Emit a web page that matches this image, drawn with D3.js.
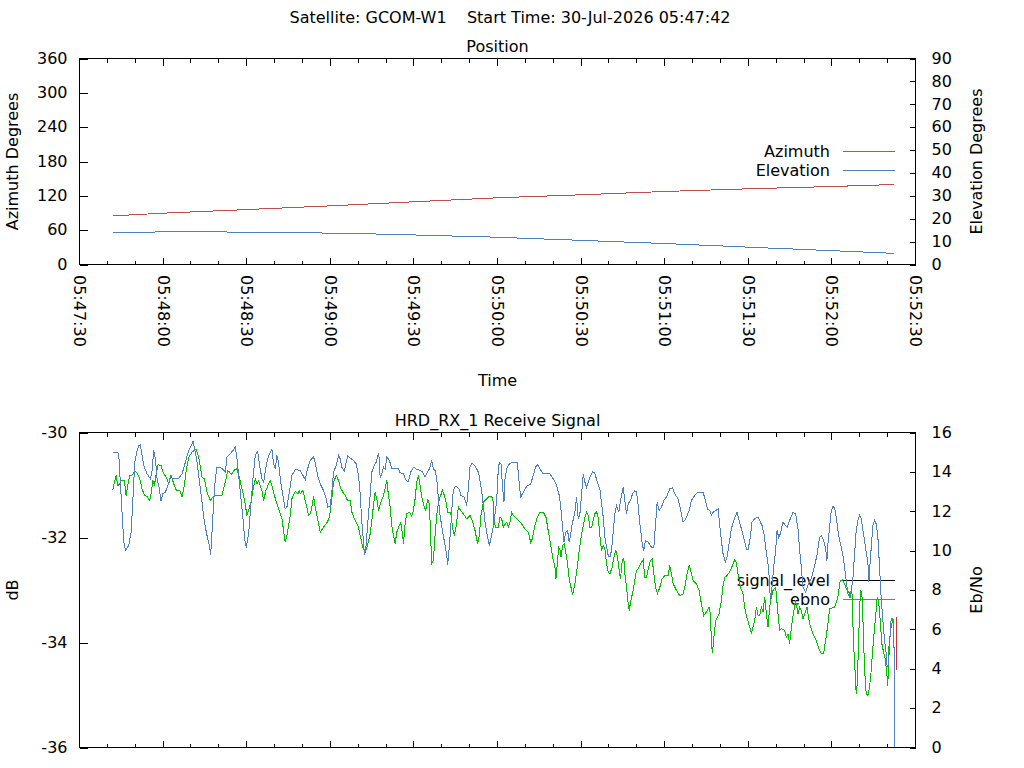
<!DOCTYPE html>
<html><head><meta charset="utf-8">
<script src="https://cdn.jsdelivr.net/npm/d3@7"></script>
<style>
html,body{margin:0;padding:0;background:#fff;}
svg{display:block;}
text{font-family:"DejaVu Sans",sans-serif;font-size:16px;fill:#000;}
</style>
</head><body>
<svg id="chart" width="1024" height="768"></svg>
<script>
// ---------------- data ----------------
const satellite = "GCOM-W1";
const startTime = "30-Jul-2026 05:47:42";
const axisStart = Date.UTC(2026, 6, 30, 5, 47, 30);   // left edge of the time axis
const axisSpanSec = 300;
const positionTitle = "Position";
const signalTitle = "HRD_RX_1 Receive Signal";

const azTicks = [0, 60, 120, 180, 240, 300, 360];
const elTicks = [0, 10, 20, 30, 40, 50, 60, 70, 80, 90];
const dbTicks = [-36, -34, -32, -30];
const ebTicks = [0, 2, 4, 6, 8, 10, 12, 14, 16];

// [seconds after 05:47:30, degrees]
const azimuth = [[12,85],[30,89.7],[60,96],[90,102.5],[120,109.6],[150,116.6],[180,121.8],[210,127.6],[240,132.3],[270,136.3],[292.4,139.8]];
const elevation = [[12,13.8],[15,14.1],[40,14.3],[69,14.07],[94.5,13.63],[111.5,13.19],[124.7,12.76],[137.6,12.32],[151.5,11.88],[159.4,11.45],[169.5,11.01],[179.7,10.57],[188.6,10.14],[198.2,9.70],[207.8,9.26],[216.4,8.83],[224.5,8.39],[233.4,7.95],[241.2,7.51],[249.6,7.08],[258.5,6.64],[266.9,6.20],[275.3,5.77],[283.6,5.33],[292.4,4.85]];

// [seconds after 05:47:30, Eb/No]
const ebno = [
[11.95,14.97],[13.74,14.97],[14.10,14.83],[15.89,10.43],[16.49,10.01],[17.68,10.26],[18.52,10.94],[19.11,12.46],[19.83,14.49],[20.67,15.09],[21.27,15.34],[21.86,15.37],[22.46,14.83],[23.06,14.32],[24.25,13.90],[25.45,13.65],[26.04,14.07],[26.64,15.09],[27.24,14.66],[27.84,13.65],[28.67,13.14],[29.27,12.50],[29.87,12.88],[30.82,12.97],[31.78,13.34],[32.62,13.73],[33.21,13.68],[35.60,13.68],[36.80,13.90],[37.99,14.49],[39.19,15.09],[40.74,15.54],[41.58,15.00],[42.17,14.49],[43.13,13.39],[43.97,12.46],[44.80,11.45],[45.76,10.77],[46.59,10.26],[47.07,9.79],[47.55,10.94],[48.15,12.46],[48.74,13.65],[49.34,14.24],[50.54,14.24],[51.49,14.12],[52.33,13.99],[52.93,14.75],[54.12,14.92],[55.08,15.09],[55.91,15.26],[56.51,14.66],[57.11,13.82],[57.70,12.97],[58.66,11.62],[59.26,10.60],[59.85,10.16],[60.69,10.85],[61.29,11.95],[62.24,13.65],[63.08,14.83],[63.92,15.04],[64.63,14.32],[65.47,13.65],[66.07,13.48],[67.02,14.32],[67.86,14.83],[69.05,15.14],[69.65,14.41],[70.25,14.15],[70.85,14.83],[71.44,14.49],[72.04,13.65],[73.00,12.80],[73.83,12.12],[74.43,12.21],[75.39,13.05],[76.22,13.82],[77.42,14.12],[79.21,14.07],
[80.17,13.82],[81.00,13.61],[81.84,14.15],[82.79,14.58],[83.99,14.75],[84.59,14.49],[85.42,13.82],[86.38,13.39],[87.57,13.05],[88.53,12.63],[89.13,12.21],[89.96,12.26],[90.56,12.97],[91.16,13.99],[92.11,14.32],[92.95,14.83],[93.55,14.66],[94.14,14.24],[94.98,14.02],[95.70,14.49],[96.29,14.83],[97.13,14.70],[98.33,14.58],[99.28,14.41],[100.12,13.82],[100.71,12.88],[101.31,11.45],[101.91,10.43],[102.27,9.79],[102.86,10.26],[103.46,11.45],[104.30,12.80],[104.90,13.99],[105.73,14.32],[106.45,14.49],[107.05,14.83],[107.40,14.97],[107.88,13.73],[108.48,13.90],[109.08,14.24],[109.67,14.15],[110.27,14.75],[111.23,14.58],[112.06,14.15],[114.45,14.15],[115.05,13.95],[116.25,13.90],[117.20,13.56],[118.04,13.51],[118.87,13.99],[119.83,14.24],[120.78,14.15],[122.22,14.07],[123.17,13.99],[124.01,13.73],[124.85,13.99],[125.56,14.15],[126.40,14.58],[127.00,14.15],[127.60,14.07],[128.19,13.65],[128.79,12.63],[129.39,11.78],[130.34,10.94],[131.18,10.26],[131.78,9.75],[132.13,9.28],[132.73,10.26],[133.33,11.45],[133.93,12.80],[134.52,13.22],[135.36,13.26],[136.20,13.14],[136.91,12.80],[137.99,12.72],[138.59,12.46],[138.94,12.29],[139.54,13.14],[140.14,14.24],[140.86,14.46],[141.57,14.36],[142.53,14.15],[143.13,13.99],[143.72,13.56],[144.32,13.05],[144.92,12.29],[145.51,11.45],[146.35,10.77],[147.07,10.26],[147.90,10.77],[148.74,11.45],[149.70,12.55],[150.29,14.15],[150.65,14.46],[151.25,14.41],[151.85,13.14],[152.33,12.46],
[152.45,13.39],[153.29,14.15],[154.25,14.41],[155.08,14.48],[157.11,14.48],[157.71,13.56],[158.31,12.72],[159.26,12.97],[160.46,13.26],[161.89,13.39],[162.85,13.82],[163.68,14.24],[164.40,14.37],[165.24,14.15],[166.43,13.90],[168.82,13.90],[170.02,13.65],[171.21,13.31],[172.17,12.80],[172.76,12.12],[173.36,11.19],[173.84,10.43],[174.44,10.94],[175.15,11.02],[175.75,10.43],[176.23,10.77],[176.82,11.36],[177.78,11.95],[178.38,12.72],[178.97,11.61],[179.57,11.87],[180.17,12.88],[180.77,13.90],[181.36,13.48],[181.96,13.22],[182.56,13.48],[183.16,13.73],[184.11,13.99],[184.95,13.93],[185.79,13.48],[186.74,13.14],[187.34,12.38],[187.94,11.70],[188.53,10.68],[189.13,10.18],[189.73,9.75],[190.33,9.67],[190.92,10.01],[191.52,10.94],[192.12,11.87],[192.71,12.29],[193.55,11.95],[194.15,12.55],[194.75,12.97],[195.10,13.22],[195.70,12.55],[196.30,11.87],[196.90,12.38],[197.73,12.55],[198.45,12.88],[199.29,13.05],[199.88,12.97],[200.48,12.29],[201.08,11.36],[202.03,10.26],[202.51,10.01],[203.11,10.51],[204.07,10.43],[205.26,10.18],[206.10,10.14],[206.81,11.53],[207.29,12.46],[208.01,12.04],[208.84,12.21],[209.68,12.55],[210.64,12.72],[211.83,13.14],[212.79,13.19],[213.62,12.88],[214.82,12.63],[215.65,12.12],[216.61,11.45],[217.57,11.61],[218.76,12.04],[219.60,12.55],[220.79,12.80],[221.99,12.97],[223.78,12.97],[224.61,12.55],[225.33,12.12],[226.17,12.04],[226.76,11.78],[227.36,11.95],[228.31,12.04],[229.15,12.12],[229.51,11.61],
[230.35,10.51],[230.94,9.84],[231.78,9.41],[232.38,9.67],[233.10,10.35],[233.93,11.11],[234.77,11.53],[235.48,11.78],[235.96,11.95],[236.68,11.53],[237.52,11.11],[238.35,10.68],[239.31,10.09],[239.90,10.04],[240.74,10.68],[241.34,11.45],[242.29,11.62],[243.49,11.70],[244.33,11.45],[244.92,11.28],[245.64,10.85],[246.48,9.92],[247.31,9.08],[247.91,7.55],[248.51,8.14],[249.10,9.16],[249.82,10.01],[250.30,11.02],[250.90,10.68],[251.49,10.85],[252.45,11.45],[253.29,11.28],[254.00,11.19],[254.84,11.53],[256.03,11.95],[256.99,11.87],[257.83,11.11],[258.42,10.01],[259.02,9.16],[259.62,8.14],[260.57,7.89],[261.41,8.23],[262.25,8.48],[262.96,8.74],[263.80,9.24],[264.63,9.75],[265.59,10.68],[266.19,10.77],[267.02,10.51],[267.74,10.09],[268.22,9.50],[268.58,10.35],[269.18,11.19],[269.77,12.04],[270.37,12.24],[270.97,12.17],[271.56,11.70],[272.16,11.02],[272.76,10.51],[273.36,10.18],[273.95,9.75],[274.55,9.16],[275.15,8.48],[275.75,7.80],[276.34,7.64],[276.94,7.97],[277.54,8.57],[278.14,9.84],[278.73,11.02],[279.33,11.53],[279.93,11.78],[280.52,11.62],[281.12,11.02],[281.72,10.51],[282.32,9.92],[282.91,9.41],[283.27,8.40],[283.75,9.50],[284.23,10.35],[284.71,11.28],[285.31,11.53],[285.90,11.36],[286.50,10.68],[287.10,9.16],[287.69,7.55],[288.29,6.45],[288.89,5.44],[289.49,4.76],[289.85,4.08],[290.32,4.25],[290.92,5.77],[291.28,6.54],[291.88,6.54],[292.23,6.45],[292.40,2.39],[292.50,1.54],[292.60,0.0]
];

// [seconds after 05:47:30, dB] (locked part, drawn green)
const signalLevel = [
[11.95,-31.105],[12.55,-30.946],[13.14,-30.819],[13.74,-31.010],[14.46,-30.978],[14.93,-30.914],[16.13,-30.914],[16.73,-31.200],[17.32,-31.010],[18.04,-30.819],[19.11,-30.806],[19.83,-30.724],[20.67,-30.768],[21.62,-30.882],[22.46,-31.073],[23.30,-31.200],[24.25,-31.219],[25.21,-31.295],[25.81,-31.136],[26.28,-30.914],[26.88,-31.010],[27.60,-30.755],[28.20,-30.616],[29.27,-30.628],[29.99,-30.755],[30.82,-30.832],[31.42,-30.882],[32.02,-30.978],[32.85,-30.806],[33.81,-30.978],[34.77,-31.105],[35.96,-31.105],[36.80,-31.232],[37.63,-31.010],[38.35,-30.692],[39.19,-30.470],[40.38,-30.375],[41.82,-30.311],[42.77,-30.470],[43.97,-30.851],[44.80,-30.882],[45.76,-31.136],[46.95,-31.295],[47.79,-31.232],[48.74,-31.200],[51.13,-31.200],[52.33,-30.946],[53.16,-30.724],[53.88,-30.755],[54.48,-30.806],[55.31,-30.724],[56.51,-30.692],[57.47,-30.882],[58.30,-31.073],[59.14,-31.263],[60.09,-31.581],[60.69,-31.486],[61.53,-31.327],[62.24,-31.105],[63.08,-30.882],[63.68,-30.978],[64.27,-30.914],[64.87,-31.010],[65.47,-31.105],[66.07,-31.295],[66.90,-31.105],[67.86,-30.978],[68.46,-30.914],[69.05,-31.010],[69.65,-31.136],[70.61,-31.327],[71.44,-31.454],[72.64,-31.644],[73.23,-31.867],[73.83,-32.089],[74.43,-31.962],[75.03,-31.771],[75.62,-31.581],[76.22,-31.263],[77.42,-31.124],[78.37,-31.168],[78.97,-31.105],
[79.21,-31.168],[80.17,-31.105],[81.00,-31.295],[81.60,-31.422],[82.20,-31.581],[82.79,-31.549],[83.39,-31.422],[83.99,-31.213],[84.59,-31.422],[85.18,-31.581],[85.78,-31.740],[86.38,-31.898],[87.57,-31.803],[88.77,-31.721],[89.72,-31.613],[90.56,-31.263],[91.16,-30.946],[92.11,-30.819],[92.95,-30.914],[93.55,-31.041],[94.50,-31.136],[95.34,-31.200],[96.17,-31.295],[97.13,-31.295],[97.73,-31.517],[98.92,-31.676],[100.12,-31.803],[100.71,-31.962],[101.67,-32.184],[102.51,-32.279],[103.34,-32.152],[104.30,-31.930],[104.90,-31.676],[105.49,-31.390],[106.09,-31.136],[106.69,-31.263],[107.28,-31.486],[108.12,-31.327],[109.08,-31.200],[109.67,-31.073],[110.27,-30.914],[110.87,-31.200],[111.47,-31.422],[112.06,-31.771],[112.66,-31.962],[113.26,-32.120],[113.86,-31.898],[114.69,-31.771],[115.29,-31.721],[115.89,-31.930],[116.25,-32.120],[116.84,-31.740],[117.44,-31.549],[118.40,-31.517],[119.23,-31.594],[119.83,-31.486],[120.43,-31.263],[121.02,-30.946],[121.62,-30.819],[122.22,-31.010],[122.82,-31.232],[123.41,-31.359],[124.25,-31.486],[124.97,-31.263],[125.56,-31.359],[126.04,-32.025],[126.40,-32.501],[127.00,-32.438],[127.60,-31.962],[128.19,-31.581],[128.79,-31.359],[129.39,-31.232],[130.22,-31.105],[130.94,-31.200],[131.54,-31.327],[132.13,-31.517],[133.21,-31.530],[133.93,-31.835],[134.52,-31.962],[135.12,-31.803],[135.96,-31.422],[136.79,-31.486],[137.75,-31.549],[138.94,-31.644],[140.14,-31.581],[140.98,-31.676],[141.93,-31.867],[142.89,-32.120],[143.48,-31.962],[144.08,-31.581],[144.92,-31.327],[146.11,-31.263],[147.07,-31.213],[147.90,-31.213],[148.50,-31.327],[148.74,-31.708],[149.46,-31.816],[150.29,-31.816],[150.89,-31.613],
[151.50,-31.644],[152.09,-31.803],[152.69,-31.752],[153.29,-31.708],[153.89,-31.803],[154.48,-31.708],[155.08,-31.517],[155.68,-31.581],[156.28,-31.613],[157.47,-31.676],[158.67,-31.740],[159.86,-31.835],[161.05,-31.898],[161.89,-32.089],[162.49,-32.025],[163.44,-31.771],[164.28,-31.613],[165.24,-31.517],[166.43,-31.517],[167.39,-31.613],[167.98,-31.803],[168.82,-32.057],[169.78,-32.374],[170.61,-32.565],[170.97,-32.787],[171.45,-32.502],[171.93,-32.184],[172.40,-32.216],[172.76,-32.374],[173.36,-32.152],[173.96,-32.121],[174.55,-32.311],[175.15,-32.502],[175.75,-32.787],[176.35,-32.946],[176.94,-33.086],[177.78,-32.882],[178.62,-32.565],[179.33,-32.248],[180.17,-31.930],[181.36,-31.613],[181.96,-31.517],[182.56,-31.581],[183.16,-31.803],[183.75,-31.816],[184.35,-31.676],[184.95,-31.549],[185.55,-31.517],[186.14,-31.613],[186.74,-31.962],[187.34,-32.248],[187.94,-32.152],[188.53,-32.216],[189.13,-32.502],[189.73,-32.660],[190.33,-32.692],[191.16,-32.565],[191.88,-32.343],[192.48,-32.248],[193.07,-32.374],[193.67,-32.629],[194.15,-32.787],[194.75,-32.438],[195.34,-32.406],[195.70,-32.692],[196.30,-32.946],[196.90,-33.263],[197.25,-33.390],[197.85,-33.200],[198.69,-33.009],[199.28,-32.819],[199.88,-32.629],[200.48,-32.597],[201.32,-32.502],[202.27,-32.425],[202.87,-32.756],[203.47,-32.756],[204.06,-32.597],[204.90,-32.438],[205.50,-32.406],[206.10,-32.692],[206.69,-32.946],[207.41,-33.073],[208.25,-32.946],[209.08,-32.787],[210.04,-32.724],[211.23,-32.724],[211.83,-32.533],[212.43,-32.692],[213.02,-32.882],[214.22,-33.009],[215.41,-33.105],[216.61,-33.073],[217.45,-32.882],[218.04,-32.692],[218.76,-32.533],[219.36,-32.629],[220.19,-32.819],[221.39,-32.882],[222.34,-33.009],[223.18,-33.263],[224.02,-33.486],[224.97,-33.422],[225.93,-33.327],[226.41,-33.454],[226.76,-33.994],[227.12,-34.203],[227.60,-33.930],[228.32,-33.581],[229.15,-33.486],[229.51,-33.454],
[230.35,-33.200],[230.94,-32.914],[231.54,-32.755],[232.38,-32.724],[233.33,-32.660],[234.29,-32.533],[235.13,-32.425],[235.72,-32.470],[236.32,-32.692],[237.16,-32.946],[238.11,-33.073],[238.71,-33.327],[239.31,-33.486],[240.14,-33.644],[241.10,-33.822],[241.70,-33.708],[242.29,-33.581],[242.89,-33.327],[243.49,-33.486],[244.09,-33.486],[244.68,-33.327],[245.28,-33.422],[245.88,-33.136],[246.48,-33.454],[247.07,-33.708],[247.67,-33.327],[248.27,-33.136],[248.87,-33.009],[249.82,-32.946],[250.66,-33.454],[251.25,-33.771],[251.85,-33.739],[253.05,-33.771],[253.64,-33.898],[254.24,-33.835],[254.84,-34.025],[255.20,-33.835],[255.79,-33.581],[256.39,-33.390],[256.99,-33.200],[257.83,-33.454],[258.42,-33.327],[259.02,-33.390],[259.62,-33.549],[260.22,-33.454],[261.05,-33.327],[262.01,-33.644],[263.20,-33.835],[264.40,-33.962],[265.59,-34.152],[266.19,-34.216],[267.02,-34.216],[267.74,-33.962],[268.58,-33.644],[269.18,-33.359],[270.97,-33.327],[272.16,-33.136],[272.99,-32.819],[273.71,-32.806],[274.55,-32.882],[275.15,-32.978],[276.10,-33.041],[276.58,-33.136],[277.18,-33.009],[277.54,-33.644],[277.90,-34.152],[278.37,-34.597],[278.73,-34.978],[279.09,-34.787],[279.45,-34.216],[279.93,-33.390],[280.29,-33.009],[280.76,-33.073],[281.12,-33.517],[281.48,-34.152],[281.96,-34.724],[282.32,-34.978],[282.91,-35.009],[283.51,-34.851],[284.11,-34.533],[284.71,-34.089],[285.31,-33.708],[285.90,-33.390],[286.26,-33.136],[286.74,-33.200],[287.33,-33.581],[287.93,-34.025],[288.53,-34.184],[289.13,-34.311],[289.49,-34.470],[290.08,-34.819],[290.44,-34.089],[290.92,-33.835],[291.28,-33.708],[291.88,-33.549],[292.12,-33.644]
];
// final samples of signal_level drawn red
const signalLevelLost = [[293.1,-33.52],[293.15,-34.05],[293.2,-34.53]];

// ---------------- drawing ----------------
const svg = d3.select("#chart");
const C = {az:"#c0504d", el:"#4f81bd", sig:"#00c000", lost:"#d03030", ink:"#000"};
const X0 = 79.5, X1 = 915.5;
const P1 = {top:58.5, bottom:264.5};
const P2 = {top:432.5, bottom:747.5};

const t0 = new Date(axisStart), t1 = new Date(axisStart + axisSpanSec*1000);
const x = d3.scaleUtc().domain([t0, t1]).range([X0, X1]);
const at = s => new Date(axisStart + s*1000);
const fmt = d3.utcFormat("%H:%M:%S");

const yAz = d3.scaleLinear().domain([0,360]).range([P1.bottom, P1.top]);
const yEl = d3.scaleLinear().domain([0,90]).range([P1.bottom, P1.top]);
const yDb = d3.scaleLinear().domain([-36,-30]).range([P2.bottom, P2.top]);
const yEb = d3.scaleLinear().domain([0,16]).range([P2.bottom, P2.top]);

const majors = x.ticks(d3.utcSecond.every(30));
const minors = x.ticks(d3.utcSecond.every(10)).filter(d => d.getUTCSeconds() % 30 !== 0);

function frame(P, yL, yR, lt, rt){
  const g = svg.append("g");
  const gl = g.append("g").attr("transform", `translate(${X0},0)`)
    .call(d3.axisLeft(yL).tickValues(lt).tickSize(-8).tickPadding(12).tickFormat(d => String(d)));
  const gr = g.append("g").attr("transform", `translate(${X1},0)`)
    .call(d3.axisRight(yR).tickValues(rt).tickSize(-6).tickPadding(16).tickFormat(d => String(d)));
  [gl, gr].forEach(a => {
    a.select(".domain").remove();
    a.selectAll("line").attr("stroke", C.ink).attr("shape-rendering","crispEdges");
    a.selectAll("text").attr("dy","0.3em");
    a.attr("font-size", null).attr("font-family", null);
  });
  const tk = g.append("g").attr("stroke", C.ink).attr("shape-rendering","crispEdges");
  const px = d => Math.round(x(d) - 0.5) + 0.5;
  const tickSet = (arr, len) => {
    tk.selectAll(null).data(arr).join("line")
      .attr("x1", px).attr("x2", px).attr("y1", P.bottom).attr("y2", P.bottom - len);
    tk.selectAll(null).data(arr).join("line")
      .attr("x1", px).attr("x2", px).attr("y1", P.top).attr("y2", P.top + len);
  };
  tickSet(majors, 7);
  tickSet(minors, 4);
  g.append("rect").attr("x", X0).attr("y", P.top).attr("width", X1 - X0).attr("height", P.bottom - P.top)
    .attr("fill","none").attr("stroke", C.ink).attr("shape-rendering","crispEdges");
  return g;
}

function series(data, ys, color){
  svg.append("path").datum(data)
    .attr("fill","none").attr("stroke", color).attr("stroke-width", 1)
    .attr("shape-rendering","crispEdges")
    .attr("d", d3.line().x(d => x(at(d[0]))).y(d => ys(d[1])));
}

function legendRow(label, yLine, color){
  svg.append("text").attr("x", 830).attr("y", yLine + 5).attr("text-anchor","end").text(label);
  svg.append("line").attr("x1", 843).attr("x2", 895).attr("y1", yLine).attr("y2", yLine)
    .attr("stroke", color).attr("shape-rendering","crispEdges");
}

// titles
svg.append("text").attr("x", 510).attr("y", 23).attr("text-anchor","middle")
  .attr("xml:space","preserve").style("white-space","pre")
  .text(`Satellite: ${satellite}    Start Time: ${startTime}`);
svg.append("text").attr("x", (X0+X1)/2).attr("y", 52).attr("text-anchor","middle").text(positionTitle);
svg.append("text").attr("x", (X0+X1)/2).attr("y", 425.5).attr("text-anchor","middle").text(signalTitle);

// ---- top plot ----
frame(P1, yAz, yEl, azTicks, elTicks);
svg.append("g").selectAll("text").data(majors).join("text")
  .attr("transform", d => `translate(${x(d) - 5.5},275) rotate(90)`)
  .attr("text-anchor","start").text(d => fmt(d));
svg.append("text").attr("x", (X0+X1)/2).attr("y", 385.5).attr("text-anchor","middle").text("Time");
svg.append("text").attr("transform", `translate(18,${(P1.top+P1.bottom)/2}) rotate(-90)`)
  .attr("text-anchor","middle").text("Azimuth Degrees");
svg.append("text").attr("transform", `translate(982,${(P1.top+P1.bottom)/2}) rotate(-90)`)
  .attr("text-anchor","middle").text("Elevation Degrees");
legendRow("Azimuth", 151.5, C.az);
legendRow("Elevation", 170.5, C.el);
series(azimuth, yAz, C.az);
series(elevation, yEl, C.el);

// ---- bottom plot ----
frame(P2, yDb, yEb, dbTicks, ebTicks);
svg.append("text").attr("transform", `translate(18,${(P2.top+P2.bottom)/2}) rotate(-90)`)
  .attr("text-anchor","middle").text("dB");
svg.append("text").attr("transform", `translate(982,${(P2.top+P2.bottom)/2}) rotate(-90)`)
  .attr("text-anchor","middle").text("Eb/No");
legendRow("signal_level", 580.5, C.ink);
legendRow("ebno", 599.5, C.el);
series(signalLevel, yDb, C.sig);
series(ebno, yEb, C.el);
series(signalLevelLost, yDb, C.lost);
</script>
</body></html>
